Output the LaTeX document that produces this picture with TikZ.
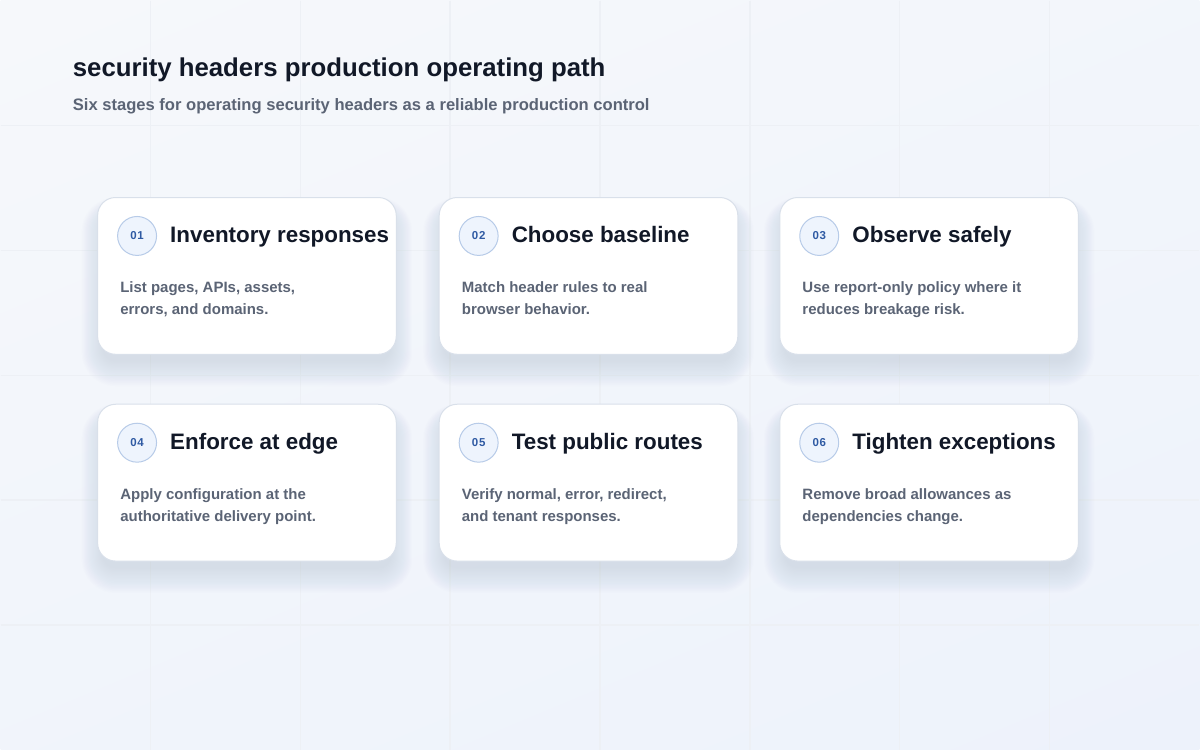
\documentclass[tikz,border=0pt]{standalone}
\usepackage{fontspec}
\setmainfont{Liberation Sans}
\newfontfamily\badgefont[LetterSpace=6]{Liberation Sans}
\usetikzlibrary{positioning,calc,shadings}
\definecolor{bgtop}{HTML}{F6F8FB}
\definecolor{bgbot}{HTML}{EDF2FB}
\definecolor{gridline}{HTML}{EDF0F5}
\definecolor{inkdark}{HTML}{111827}
\definecolor{inkgrey}{HTML}{5B6475}
\definecolor{cardline}{HTML}{D9E0EA}
\definecolor{shadowcol}{HTML}{8C98B4}
\definecolor{badgefill}{HTML}{EEF4FD}
\definecolor{badgeline}{HTML}{B7CBE8}
\definecolor{badgeink}{HTML}{2F5AA3}
\tikzset{
  % card box
  card/.style={
    draw=cardline,
    line width=1pt,
    fill=white,
    rounded corners=18pt,
    minimum width=299pt,
    minimum height=157pt,
    inner sep=0pt
  },
  % step number
  badge/.style={
    circle,
    draw=badgeline,
    fill=badgefill,
    line width=1pt,
    minimum size=39pt,
    inner sep=0pt,
    font=\badgefont\fontsize{11.5}{13}\selectfont\bfseries,
    text=badgeink
  },
  % card heading
  cardtitle/.style={anchor=base west, inner sep=0pt, font=\fontsize{22.4}{26}\selectfont\bfseries, text=inkdark},
  % card text
  carddesc/.style={anchor=north west, inner sep=0pt, align=left, font=\fontsize{15}{22}\selectfont\bfseries, text=inkgrey},
}

\begin{document}
\begin{tikzpicture}[x=1pt, y=-1pt]
    % background
    \shade[upper left=bgtop, upper right=bgtop!60!bgbot, lower left=bgtop!40!bgbot, lower right=bgbot] (0,0) rectangle (1200,750);
    \foreach \gx in {150,300,...,1050}
        \draw[gridline, line width=1.5pt] (\gx,0) -- (\gx,750);
    \foreach \gy in {125,250,...,625}
        \draw[gridline, line width=1.5pt] (0,\gy) -- (1200,\gy);

    % heading
    \node[anchor=base west, inner sep=0pt, font=\fontsize{25.8}{30}\selectfont\bfseries, text=inkdark] (head) at (72,76) {security headers production operating path};
    \node[anchor=base west, inner sep=0pt, font=\fontsize{16.6}{20}\selectfont\bfseries, text=inkgrey] (sub) at (72,110) {Six stages for operating security headers as a reliable production control};

    % six stages
    \foreach \n/\cx/\cy/\ttl/\dsc in {
        01/246.5/275.5/{Inventory responses}/{List pages, APIs, assets,\\errors, and domains.},
        02/588.5/275.5/{Choose baseline}/{Match header rules to real\\browser behavior.},
        03/929.5/275.5/{Observe safely}/{Use report-only policy where it\\reduces breakage risk.},
        04/246.5/482.5/{Enforce at edge}/{Apply configuration at the\\authoritative delivery point.},
        05/588.5/482.5/{Test public routes}/{Verify normal, error, redirect,\\and tenant responses.},
        06/929.5/482.5/{Tighten exceptions}/{Remove broad allowances as\\dependencies change.}}
    {
        \foreach \s in {1,...,20}
            \fill[shadowcol, opacity=0.011, rounded corners={12+1.1*\s}] ({\cx-143.5-1.1*\s},{\cy-60.5-0.9*\s}) rectangle ({\cx+143.5+1.1*\s},{\cy+84.5+1.3*\s});
        \node[card] (card\n) at (\cx,\cy) {};
        \node[badge] (num\n) at ($(card\n.north west)+(40,39)$) {\n};
        \node[cardtitle] (title\n) at ($(card\n.north west)+(73,46)$) {\ttl};
        \node[carddesc] (desc\n) at ($(card\n.north west)+(23,85)$) {\dsc};
    }
\end{tikzpicture}
\end{document}
